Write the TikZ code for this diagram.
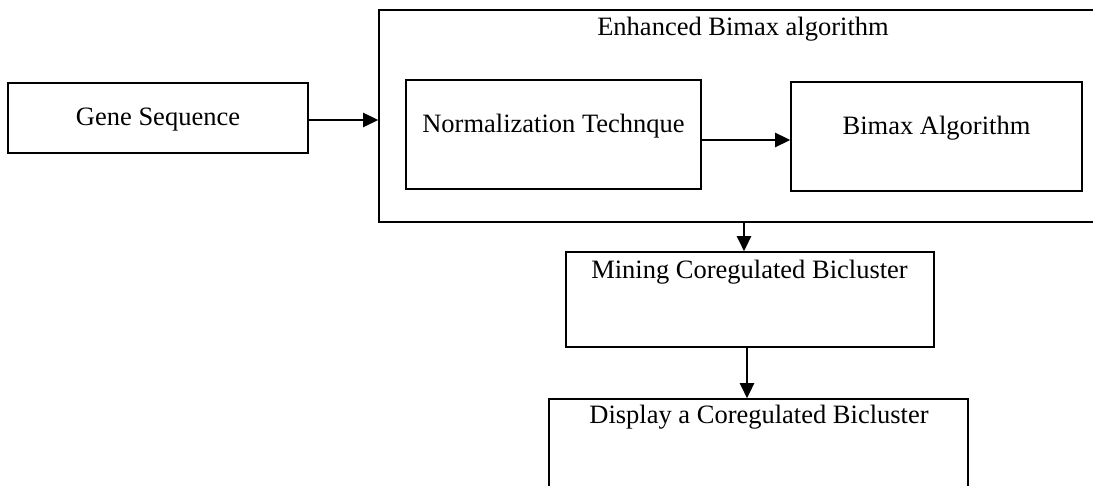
\documentclass[tikz,border=0pt]{standalone}
\usepackage{fontspec}
\setmainfont{Liberation Serif}
\usetikzlibrary{arrows.meta}
\begin{document}
\begin{tikzpicture}[x=1pt,y=-1pt,
  box/.style={draw, line width=1.6pt, rectangle, inner sep=0pt},
  lbl/.style={font=\fontsize{26.5}{30}\selectfont, inner sep=0pt, anchor=base},
  arr/.style={-{Triangle[length=15pt,width=14pt]}, line width=2.6pt}]
\useasboundingbox (0,0) rectangle (1093,486);
\clip (0,0) rectangle (1093,486);
\fill[white] (0,0) rectangle (1093,486);
% boxes
\node[box, minimum width=300pt, minimum height=70pt] (gene) at (158,118) {};
\node[box, minimum width=728pt, minimum height=212pt] (outer) at (743,116) {};
\node[box, minimum width=295pt, minimum height=109pt] (norm) at (553.5,134.5) {};
\node[box, minimum width=291pt, minimum height=109pt] (bimax) at (936.5,136.5) {};
\node[box, minimum width=368pt, minimum height=95pt] (mining) at (750,299.5) {};
\node[box, minimum width=419pt, minimum height=130pt] (display) at (758.5,464) {};
% texts
\node[lbl] (tgene) at (158,126) {Gene Sequence};
\node[lbl] (touter) at (743,36) {Enhanced Bimax algorithm};
\node[lbl] (tnorm) at (553.5,133) {Normalization Technque};
\node[lbl] (tbimax) at (936.5,135) {Bimax Algorithm};
\node[lbl] (tmining) at (749.5,279) {Mining Coregulated Bicluster};
\node[lbl] (tdisplay) at (759,424) {Display a Coregulated Bicluster};
% connectors
\draw[arr] ([yshift=-2pt]gene.east) -- ([yshift=-2pt]gene.east -| outer.west);
\draw[arr] ([yshift=-5.5pt]norm.east) -- ([yshift=-5.5pt]norm.east -| bimax.west);
\draw[arr] ([xshift=1pt]outer.south) -- ([xshift=1pt]outer.south |- mining.north);
\draw[arr] ([xshift=-3pt]mining.south) -- ([xshift=-3pt]mining.south |- display.north);
\end{tikzpicture}
\end{document}
